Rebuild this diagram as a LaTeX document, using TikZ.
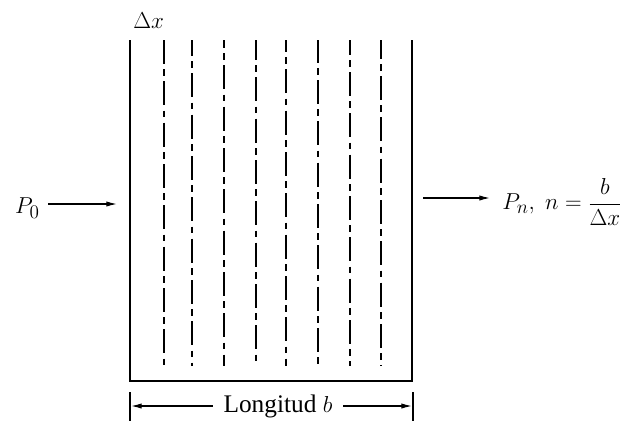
\documentclass[tikz,border=0pt]{standalone}
\usepackage{amsmath}
\usepackage{fontspec}
\setmainfont{Liberation Serif}
\usetikzlibrary{arrows.meta}
\begin{document}
\begin{tikzpicture}[x=0.75pt,y=-0.75pt,
  wall/.style={line width=1.1pt},
  part/.style={line width=1.1pt,dash pattern=on 18pt off 4pt on 5pt off 4pt},
  flow/.style={line width=0.9pt,-{Latex[length=8pt,width=4pt]}},
  lbl/.style={inner sep=0pt,font=\fontsize{19}{22}\selectfont}]
\useasboundingbox (0,0) rectangle (623,422);
% walls
\coordinate (tl) at (130,40);
\coordinate (bl) at (130,381);
\coordinate (br) at (412,381);
\coordinate (tr) at (412,40);
\draw[wall] (tl) -- (bl) -- (br) -- (tr);
% partitions
\foreach \x/\ph in {164/0,192/6,224/12,256/3,286/9,318/1,350/7,381/4}{
  \draw[part,dash phase=\ph pt] (\x,40) -- (\x,366);
}
% labels
\node[lbl,anchor=south west] (dx) at (133,29) {$\Delta x$};
\node[lbl,anchor=east] (p0) at (40,208) {$P_0$};
\coordinate (inS) at (48,204);
\coordinate (inA) at (117,204);
\draw[flow] (inS) -- (inA);
\coordinate (outS) at (423,198);
\coordinate (outA) at (490,198);
\node[lbl,anchor=west] (pn) at (502,202) {$P_n,\ n=\dfrac{b}{\Delta x}$};
\draw[flow] (outS) -- (outA);
% dimension
\coordinate (t1a) at (130,392);
\coordinate (t1b) at (130,421);
\coordinate (t2a) at (413,392);
\coordinate (t2b) at (413,421);
\draw[line width=0.9pt] (t1a) -- (t1b);
\draw[line width=0.9pt] (t2a) -- (t2b);
\node[lbl,anchor=center,fill=white,inner xsep=8pt] (lon) at (278,406) {Longitud $b$};
\draw[line width=0.9pt,-{Latex[length=8pt,width=4pt]}] (lon.west) -- (131,406);
\draw[line width=0.9pt,-{Latex[length=8pt,width=4pt]}] (lon.east) -- (412,406);
\end{tikzpicture}
\end{document}
